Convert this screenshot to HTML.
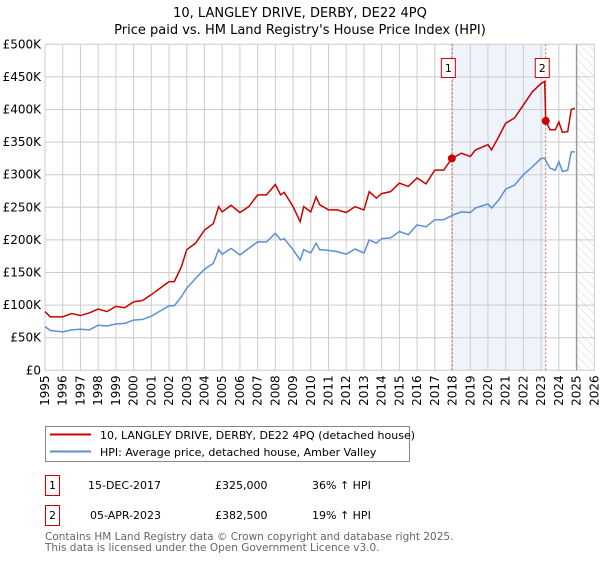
<!DOCTYPE html>
<html><head><meta charset="utf-8"><style>
body{margin:0;background:#fff;}
svg text{font-family:"DejaVu Sans","Liberation Sans",sans-serif;}
</style></head><body>
<svg id="chart" width="600" height="560" viewBox="0 0 600 560" xmlns="http://www.w3.org/2000/svg">
<text x="300" y="17" text-anchor="middle" font-size="13">10, LANGLEY DRIVE, DERBY, DE22 4PQ</text>
<text x="300" y="34" text-anchor="middle" font-size="13">Price paid vs. HM Land Registry's House Price Index (HPI)</text>
<defs><pattern id="hatch" width="6" height="6" patternUnits="userSpaceOnUse" patternTransform="rotate(-45)"><line x1="0" y1="0" x2="0" y2="6" stroke="#d4d4d4" stroke-width="1"/></pattern></defs>
<g id="grid"></g><g id="marks"></g><g id="axes"></g>
<rect x="45.5" y="426.5" width="364" height="35" fill="#fff" stroke="#888"/>
<line x1="50" y1="434.5" x2="91" y2="434.5" stroke="#cc0000" stroke-width="2"/>
<text x="100" y="439" font-size="11">10, LANGLEY DRIVE, DERBY, DE22 4PQ (detached house)</text>
<line x1="50" y1="451.5" x2="91" y2="451.5" stroke="#5b8fd4" stroke-width="2"/>
<text x="100" y="456" font-size="11">HPI: Average price, detached house, Amber Valley</text>
<g font-size="11">
<rect x="45.5" y="475.5" width="14" height="20" fill="none" stroke="#cc0000"/>
<text x="52.5" y="489" text-anchor="middle">1</text>
<text x="88" y="489">15-DEC-2017</text><text x="215" y="489">£325,000</text><text x="312" y="489">36% ↑ HPI</text></g>
<g font-size="11">
<rect x="45.5" y="505.5" width="14" height="20" fill="none" stroke="#cc0000"/>
<text x="52.5" y="519" text-anchor="middle">2</text>
<text x="90" y="519">05-APR-2023</text><text x="215" y="519">£382,500</text><text x="312" y="519">19% ↑ HPI</text></g>
<text x="45" y="540" font-size="10.5" fill="#666">Contains HM Land Registry data © Crown copyright and database right 2025.</text>
<text x="45" y="551" font-size="10.5" fill="#666">This data is licensed under the Open Government Licence v3.0.</text>
</svg>
<script>
const hpiYears=[1995,1995.3,1996,1996.5,1997,1997.5,1998,1998.5,1999,1999.5,2000,2000.5,2001,2001.5,2002,2002.3,2002.7,2003,2003.5,2004,2004.5,2004.8,2005,2005.5,2006,2006.5,2007,2007.5,2008,2008.3,2008.5,2009,2009.4,2009.6,2010,2010.3,2010.5,2011,2011.5,2012,2012.5,2013,2013.3,2013.7,2014,2014.5,2015,2015.5,2016,2016.5,2017,2017.5,2018,2018.5,2019,2019.3,2020,2020.2,2020.6,2021,2021.5,2022,2022.5,2023,2023.2,2023.5,2023.8,2024,2024.2,2024.5,2024.7,2024.9];
const hpiValues=[67,61,59,62,63,62,69,68,71,72,77,78,83,91,99,99,113,126,141,155,164,185,178,187,177,187,197,197,210,200,202,185,169,185,180,195,185,184,182,178,186,180,200,195,202,203,213,208,223,220,231,231,238,243,242,249,255,249,261,278,284,300,312,325,325,310,307,320,305,307,335,335];
const priceYears=[1995,1995.3,1996,1996.5,1997,1997.5,1998,1998.5,1999,1999.5,2000,2000.5,2001,2001.5,2002,2002.3,2002.7,2003,2003.5,2004,2004.5,2004.8,2005,2005.5,2006,2006.5,2007,2007.5,2008,2008.3,2008.5,2009,2009.4,2009.6,2010,2010.3,2010.5,2011,2011.5,2012,2012.5,2013,2013.3,2013.7,2014,2014.5,2015,2015.5,2016,2016.5,2017,2017.5,2017.96,2018.5,2019,2019.3,2020,2020.2,2020.6,2021,2021.5,2022,2022.5,2023,2023.2,2023.26,2023.5,2023.8,2024,2024.2,2024.5,2024.7,2024.9];
const priceValues=[90,82,82,87,84,88,94,90,98,96,105,107,116,126,136,136,159,185,195,215,225,251,243,253,242,251,269,269,285,269,273,251,228,251,243,266,254,246,246,242,251,246,274,264,271,274,287,282,295,286,307,307,325,333,328,338,346,338,358,379,387,407,427,440,443,382.5,369,369,381,365,366,400,402];
const saleYears=[2017.96,2023.26];
const saleValues=[325,382.5];
const saleLabels=["1","2"];
const yTicks=[0,50,100,150,200,250,300,350,400,450,500];
const yTickLabels=["£0","£50K","£100K","£150K","£200K","£250K","£300K","£350K","£400K","£450K","£500K"];
const xTicks=[1995,1996,1997,1998,1999,2000,2001,2002,2003,2004,2005,2006,2007,2008,2009,2010,2011,2012,2013,2014,2015,2016,2017,2018,2019,2020,2021,2022,2023,2024,2025,2026];
const X0=45,X1=594.3,Y0=370.3,Y1=44.3,yr0=1995,yr1=2026,vmax=500,futureStart=2025;
const xs=y=>X0+(y-yr0)/(yr1-yr0)*(X1-X0);
const ys=v=>Y0-v/vmax*(Y0-Y1);
const NS="http://www.w3.org/2000/svg";
function mk(tag,attrs,parent){const e=document.createElementNS(NS,tag);for(const k in attrs)e.setAttribute(k,attrs[k]);parent.appendChild(e);return e;}
const grid=document.getElementById('grid'),marks=document.getElementById('marks'),axes=document.getElementById('axes');
const shade=mk('rect',{x:xs(saleYears[0]),y:Y1,width:xs(saleYears[1])-xs(saleYears[0]),height:Y0-Y1,fill:'#eef3fc'},grid);


const hat=mk('rect',{x:xs(futureStart),y:Y1,width:X1-xs(futureStart),height:Y0-Y1,fill:'url(#hatch)'},grid);


yTicks.forEach((t,i)=>{
 mk('line',{x1:X0,x2:X1,y1:ys(t),y2:ys(t),stroke:'#ccc'},grid);
 const tx=mk('text',{x:X0-4,y:ys(t)+4,'text-anchor':'end','font-size':'12'},axes);tx.textContent=yTickLabels[i];
 
 
});
xTicks.forEach(t=>{
 mk('line',{x1:xs(t),x2:xs(t),y1:Y1,y2:Y0,stroke:'#ccc'},grid);
 const tx=mk('text',{x:0,y:0,'text-anchor':'end','font-size':'12',transform:`translate(${xs(t)+4},${Y0+5}) rotate(-90)`},axes);tx.textContent=t;
 
 
});
const fl=mk('line',{x1:xs(futureStart),x2:xs(futureStart),y1:Y1,y2:Y0,stroke:'#999','stroke-width':1.5},grid);


saleYears.forEach((s,i)=>{
 const l=mk('line',{x1:xs(s),x2:xs(s),y1:Y1,y2:Y0,stroke:'#e06060','stroke-dasharray':'2,2'},grid);
 
 
 const b=mk('rect',{x:xs(s)-10.5,y:58.5,width:14,height:19,fill:'#fff',stroke:'#cc0000'},axes);
 
 
 const t=mk('text',{x:xs(s)-3.5,y:72,'text-anchor':'middle','font-size':'11'},axes);t.textContent=saleLabels[i];
});
const blue=mk('polyline',{points:hpiYears.map((y,i)=>xs(y)+','+ys(hpiValues[i])).join(' '),fill:'none',stroke:'#5b8fd4','stroke-width':1.5},marks);


const red=mk('polyline',{points:priceYears.map((y,i)=>xs(y)+','+ys(priceValues[i])).join(' '),fill:'none',stroke:'#cc0000','stroke-width':1.5},marks);


saleYears.forEach((s,i)=>{
 const c=mk('circle',{cx:xs(s),cy:ys(saleValues[i]),r:4,fill:'#cc0000'},marks);
 
 
});
</script>
</body></html>
